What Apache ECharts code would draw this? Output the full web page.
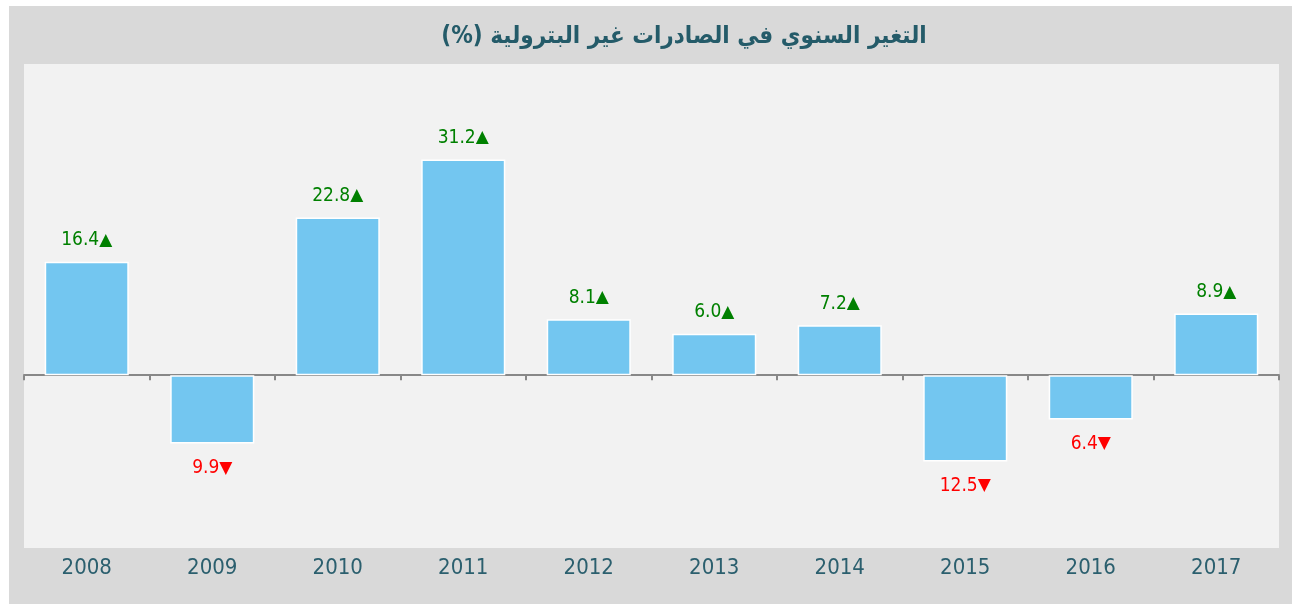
<!DOCTYPE html>
<html><head><meta charset="utf-8">
<script src="https://cdn.jsdelivr.net/npm/echarts@6/dist/echarts.min.js"></script>
<style>html,body{margin:0;padding:0;background:#fff}#c{width:1293px;height:604px}</style>
</head><body><div id="c"></div>
<script>
const titleWords = 'التغير السنوي في الصادرات غير البترولية';
const titleUnit = '(%)';
const years = ['2008','2009','2010','2011','2012','2013','2014','2015','2016','2017'];
const changes = [16.4, -9.9, 22.8, 31.2, 8.1, 6.0, 7.2, -12.5, -6.4, 8.9];

const labelFont = 'DejaVu Sans Condensed';
const barData = changes.map(v => ({
  value: v,
  label: {distance: v >= 0 ? 12 : 15}
}));

const chart = echarts.init(document.getElementById('c'), null, {renderer:'canvas'});
chart.setOption({
  backgroundColor: '#ffffff',
  animation: false,
  graphic: [
    {type:'rect', z:-10, silent:true, shape:{x:9,y:6,width:1283,height:598}, style:{fill:'#d9d9d9'}},
    {type:'text', z:10, x:684, y:37, style:{
      text: titleUnit + ' ' + titleWords, textAlign:'center', textVerticalAlign:'middle',
      font: 'bold 24px "DejaVu Sans Condensed"', fill:'#245b69'}}
  ],
  grid: {left:24, right:14, top:64, bottom:56, show:true, backgroundColor:'#f2f2f2', borderWidth:0},
  xAxis: [{
    type:'category', data: years, position:'bottom',
    axisLine:{show:true, onZero:true, lineStyle:{color:'#888888', width:2}},
    axisTick:{show:true, length:5, lineStyle:{color:'#888888', width:2}},
    axisLabel:{show:false}
  },{
    type:'category', data: years, position:'bottom',
    axisLine:{show:false, onZero:false}, axisTick:{show:false},
    axisLabel:{show:true, margin:9, fontFamily:labelFont, fontSize:22, color:'#2b5f6e'}
  }],
  yAxis: {type:'value', min:-25, max:45, show:false, splitLine:{show:false}},
  series: [{
    type:'bar', data: barData, barWidth:'67%', xAxisIndex:0,
    itemStyle:{color:'#73c6f0', borderColor:'#ffffff', borderWidth:1.5},
    label:{show:true, position:'outside',
      formatter: p => p.value >= 0 ? '{up|' + p.value.toFixed(1) + '}{upT|▲}' : '{dn|' + Math.abs(p.value).toFixed(1) + '}{dnT|▼}',
      rich:{
        up:{color:'#008000', fontFamily:labelFont, fontSize:19},
        upT:{color:'#008000', fontFamily:'DejaVu Sans', fontSize:17},
        dn:{color:'#ff0000', fontFamily:labelFont, fontSize:19},
        dnT:{color:'#ff0000', fontFamily:'DejaVu Sans', fontSize:17}
      }}
  }]
});
</script></body></html>
